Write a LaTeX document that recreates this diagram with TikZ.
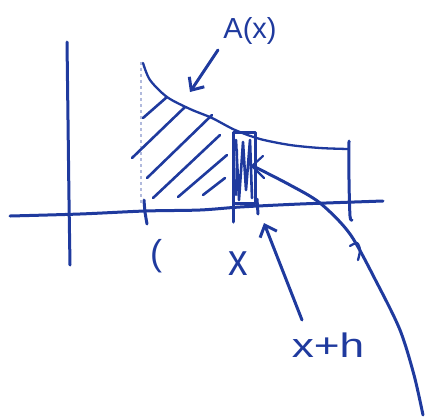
\documentclass[tikz,border=0pt]{standalone}
\usepackage{fontspec}
\setmainfont{Liberation Sans}
\usetikzlibrary{arrows.meta}
\definecolor{ink}{HTML}{1F3A9E}
\tikzset{
  pen/.style={draw=ink, line width=3pt, line cap=round, line join=round},
  hatch/.style={draw=ink, line width=2.6pt, line cap=round},
  arr/.style={pen, -{Straight Barb[length=10pt,width=18pt,line width=3pt]}},
  lbl/.style={text=ink, inner sep=0pt, font=\fontsize{29}{29}\selectfont}
}
\begin{document}
\begin{tikzpicture}[x=1pt,y=-1pt]
\useasboundingbox (0,0) rectangle (428,416);
% axes
\draw[pen] plot[smooth] coordinates {(67,42) (68,120) (69,200) (70,265)};
\draw[pen] plot[smooth] coordinates {(10,216) (80,214) (145,211) (200,210) (240,207) (300,204) (383,201)};
% curve
\draw[pen, line width=2.3pt] plot[smooth] coordinates {(143,63) (150,80) (167,97) (190,109) (212,118) (235,130) (260,139) (290,145) (320,148) (348,149)};
% left boundary (faint)
\draw[ink!35, line width=1.2pt, dashed] (141,62) -- (141,205);
% right boundary
\draw[pen] plot[smooth] coordinates {(349,141) (349,180) (350,216) (352,220)};
% ticks
\draw[pen] plot[smooth] coordinates {(144,200) (145,212) (147,224)};
\draw[pen] (233,198) -- (233,222);
\draw[pen] (257,199) -- (258,214);
% hatching
\draw[hatch] (143,118) -- (167,97);
\draw[hatch] (132,158) -- (185,107);
\draw[hatch] (147,178) -- (212,115);
\draw[hatch] (153,198) -- (220,135);
\draw[hatch] (178,197) -- (227,155);
\draw[hatch] (203,195) -- (225,178);
% strip
\draw[pen] (233,132) rectangle (255,203);
\draw[pen, line width=2.6pt] (236,140) -- (239,200) -- (243,142) -- (246,190) -- (250,140) -- (252,198);
\draw[pen, line width=2.2pt] (237,150) -- (236,195);
\draw[pen, line width=2.2pt] (252,166) -- (263,156) (252,166) -- (264,178);
% long curve from strip
\coordinate (s) at (255,167);
\coordinate (e) at (423,415);
\draw[pen] plot[smooth] coordinates {(s) (290,185) (320,203) (350,234) (377,283) (400,330) (414,375) (e)};
\draw[pen, line width=2.3pt] plot[smooth] coordinates {(350,246) (357,243) (360,250) (358,260)};
% labels
\node[lbl] (ax) at (250,31) {A(x)};
\node[lbl, font=\fontsize{36}{36}\selectfont] (c) at (156,256) {(};
\node[lbl, font=\fontsize{30}{30}\selectfont] (x) at (238,264) {\scalebox{1.3}[1.5]{x}};
\node[lbl, font=\fontsize{34}{34}\selectfont] (xh) at (328,345) {\scalebox{1.3}[1]{x+h}};
% arrows
\coordinate (a1) at (218,50);
\coordinate (a2) at (190,92);
\draw[arr] (a1) -- (a2);
\coordinate (b1) at (302,320);
\coordinate (b2) at (264,223);
\draw[arr] (b1) -- (b2);
\end{tikzpicture}
\end{document}
